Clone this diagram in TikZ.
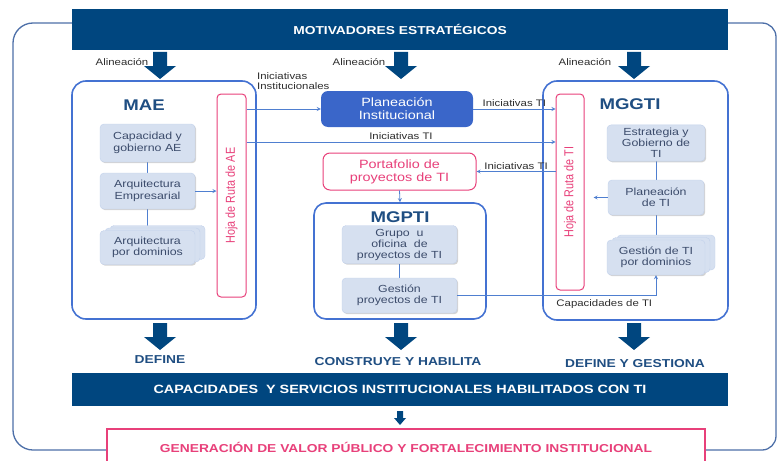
\documentclass[tikz,border=0pt]{standalone}
\usepackage{fontspec}
\setmainfont{Liberation Sans}[FakeStretch=1.2]
\newfontfamily\uprightsans{Liberation Sans}
\usepackage{tikz}
\usetikzlibrary{arrows,positioning,shapes,shadows,backgrounds}
\definecolor{navy}{RGB}{0,70,127}
\definecolor{frameblue}{RGB}{68,114,210}
\definecolor{outerblue}{RGB}{77,111,168}
\definecolor{lineblue}{RGB}{79,127,208}
\definecolor{instblue}{RGB}{58,102,201}
\definecolor{roadpink}{RGB}{232,64,122}
\definecolor{itemfill}{RGB}{214,224,240}
\definecolor{itemtext}{RGB}{59,75,107}
\definecolor{titleblue}{RGB}{31,78,130}
\definecolor{labelgray}{RGB}{45,45,45}

\begin{document}
\begin{tikzpicture}[x=1pt,y=-1pt,
		font=\fontsize{10.3}{11.5}\selectfont,
		flow/.style={->,draw=lineblue,line width=0.8pt,>=stealth},
		link/.style={draw=lineblue,line width=0.8pt},
		banner/.style={fill=navy,text=white,minimum width=656pt,font=\bfseries\fontsize{11.5}{13}\selectfont},
		model/.style={draw=frameblue,line width=1.6pt,rounded corners=14pt},
		item/.style={fill=itemfill,draw=itemfill!85!lineblue,rounded corners=4pt,text=itemtext,align=center,
			drop shadow={opacity=0.35,shadow xshift=1.2pt,shadow yshift=-1.2pt}},
		stack/.style={item,copy shadow={shadow xshift=10pt,shadow yshift=5pt},copy shadow={shadow xshift=5pt,shadow yshift=2.5pt}},
		roadmap/.style={draw=roadpink,line width=1pt,rounded corners=4pt,fill=white},
		roadtext/.style={rotate=90,yscale=1.2,text=roadpink,font=\uprightsans\fontsize{10.8}{12}\selectfont},
		flowlbl/.style={text=labelgray,font=\fontsize{9.5}{10.5}\selectfont,inner sep=0pt},
		modtitle/.style={text=titleblue,font=\bfseries\fontsize{15.5}{17}\selectfont},
		result/.style={text=titleblue,font=\bfseries\fontsize{11.5}{13}\selectfont},
		bigdown/.pic={\fill[navy] (-7,0) -- (7,0) -- (7,14) -- (16,14) -- (0,27) -- (-16,14) -- (-7,14) -- cycle;},
		smalldown/.pic={\fill[navy] (-3,0) -- (3,0) -- (3,7) -- (6,7) -- (0,14) -- (-6,7) -- (-3,7) -- cycle;}]
		\useasboundingbox (0,0) rectangle (778,460);
		\clip (0,0) rectangle (778,460);
		
		% outer frame
		\draw[outerblue,line width=1.3pt,rounded corners=20pt] (72,23) -- (13,23) -- (13,450) -- (107,450);
		\draw[outerblue,line width=1.3pt,rounded corners=14pt] (705,450) -- (776,450) -- (776,23) -- (728,23);
		
		% banners
		\node[banner,minimum height=41pt] (motiv) at (400,29.5) {MOTIVADORES ESTRATÉGICOS};
		\node[banner,minimum height=33pt,font=\bfseries\fontsize{12}{13}\selectfont] (capac) at (400,389.5)
			{CAPACIDADES~~Y SERVICIOS INSTITUCIONALES HABILITADOS CON TI};
		\node[draw=roadpink,line width=1.3pt,fill=white,text=roadpink,minimum width=598pt,minimum height=36pt,
			font=\bfseries\fontsize{11.5}{13}\selectfont] (valor) at (406,447)
			{GENERACIÓN DE VALOR PÚBLICO Y FORTALECIMIENTO INSTITUCIONAL};
		
		% big arrows
		\foreach \x in {160,401,634} {
			\pic at (\x,52) {bigdown};
			\pic at (\x,323) {bigdown};
		}
		\pic at (400,411) {smalldown};
		\node[flowlbl] (al1) at (122,62) {Alineación};
		\node[flowlbl] (al2) at (359,62) {Alineación};
		\node[flowlbl] (al3) at (585,62) {Alineación};
		\node[result] (def1) at (160,360) {DEFINE};
		\node[result] (def2) at (398,362) {CONSTRUYE Y HABILITA};
		\node[result] (def3) at (635,364) {DEFINE Y GESTIONA};
		
		% MAE
		\node[model,minimum width=184pt,minimum height=238pt] (mae) at (164,200) {};
		\node[modtitle] (maetitle) at (144,105) {MAE};
		\node[item,minimum width=95pt,minimum height=38pt] (cap) at (147.5,143) {Capacidad y\\gobierno AE};
		\node[item,minimum width=95pt,minimum height=36pt] (arqe) at (147.5,191) {Arquitectura\\Empresarial};
		\node[stack,minimum width=95pt,minimum height=34pt] (arqd) at (147.5,247.5) {Arquitectura\\por dominios};
		\node[roadmap,minimum width=29pt,minimum height=203pt] (hojaae) at (231.5,195.5) {};
		\node[roadtext] (hojaaetxt) at (hojaae) {Hoja de Ruta de AE};
		
		% centro
		\node[fill=instblue,rounded corners=7pt,text=white,align=center,font=\fontsize{12}{13}\selectfont,
			minimum width=152pt,minimum height=36pt] (planinst) at (397,109) {Planeación\\Institucional};
		\node[roadmap,rounded corners=7pt,text=roadpink,align=center,font=\fontsize{12}{13}\selectfont,
			minimum width=153pt,minimum height=37pt] (porta) at (399.5,171.5) {Portafolio de\\proyectos de TI};
		\node[model,rounded corners=12pt,minimum width=172pt,minimum height=116pt] (mgpti) at (400,261) {};
		\node[modtitle] (mgptititle) at (400,217) {MGPTI};
		\node[item,minimum width=115pt,minimum height=33pt,font=\fontsize{10.3}{11}\selectfont] (grupo) at (399.5,244.5)
			{Grupo~~u\\oficina~~de\\proyectos de TI};
		\node[item,minimum width=115pt,minimum height=35pt] (gestp) at (399.5,295.5) {Gestión\\proyectos de TI};
		
		% MGGTI
		\node[model,minimum width=185pt,minimum height=239pt] (mggti) at (635.5,200.5) {};
		\node[modtitle] (mggtititle) at (630,104) {MGGTI};
		\node[roadmap,minimum width=28pt,minimum height=196pt] (hojati) at (570,192) {};
		\node[roadtext] (hojatitxt) at (hojati) {Hoja de Ruta de TI};
		\node[item,minimum width=98pt,minimum height=36pt,font=\fontsize{10.3}{11}\selectfont] (estr) at (656,143)
			{Estrategia y\\Gobierno de\\TI};
		\node[item,minimum width=96pt,minimum height=35pt] (plti) at (656,197.5) {Planeación\\de TI};
		\node[stack,minimum width=98pt,minimum height=35pt] (gestd) at (656,257.5) {Gestión de TI\\por dominios};
		
		% connectors
		\begin{scope}[on background layer]
			\draw[link] (cap.south) -- (arqe.north);
			\draw[link] (arqe.south) -- (arqd.north);
			\draw[link] (grupo.south) -- (gestp.north);
			\draw[link] (estr.south) -- (plti.north);
			\draw[link] (plti.south) -- (gestd.north);
		\end{scope}
		\coordinate (itrow) at (0,142);
		\draw[flow] (arqe.east) -- (arqe.east -| hojaae.west);
		\draw[flow] (hojaae.east |- planinst.west) -- (planinst.west);
		\node[flowlbl,anchor=north west,align=left] (iniinst) at (257,72) {Iniciativas\\Institucionales};
		\draw[flow] (hojaae.east |- itrow) -- (hojati.west |- itrow) node[flowlbl,midway,above=2pt] {Iniciativas TI};
		\draw[flow] (planinst.east) -- (planinst.east -| hojati.west) node[flowlbl,midway,above=2pt] {Iniciativas TI};
		\draw[flow] (hojati.west |- porta.east) -- (porta.east) node[flowlbl,midway,above=2pt] {Iniciativas TI};
		\draw[flow] (porta.south) -- (mgpti.north);
		\draw[flow] (gestp.east) -| (gestd.south) node[flowlbl,pos=0.37,below=4pt] {Capacidades de TI};
		\draw[flow,shorten >=9pt] (plti.west) -- (plti.west -| hojati.east);
		
\end{tikzpicture}
\end{document}
